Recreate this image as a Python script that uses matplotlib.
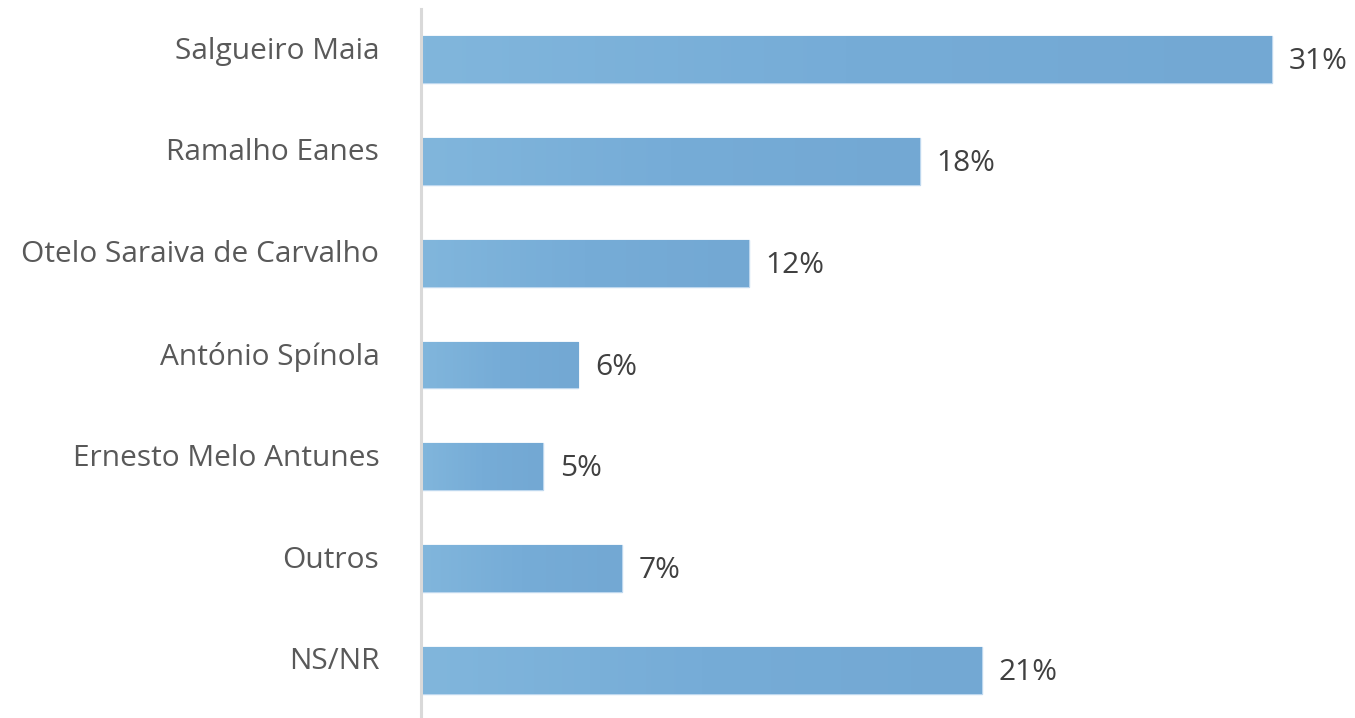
import matplotlib
matplotlib.use("Agg")
import matplotlib.pyplot as plt
import numpy as np
from matplotlib.colors import LinearSegmentedColormap
from matplotlib.transforms import ScaledTranslation

categories = ["Salgueiro Maia", "Ramalho Eanes", "Otelo Saraiva de Carvalho",
              "António Spínola", "Ernesto Melo Antunes", "Outros", "NS/NR"]
values = [31.4, 18.4, 12.1, 5.8, 4.5, 7.4, 20.7]
value_labels = ["31%", "18%", "12%", "6%", "5%", "7%", "21%"]

plt.rcParams['font.family'] = ['Open Sans', 'DejaVu Sans']

W, H = 1355, 718
fig = plt.figure(figsize=(W / 100, H / 100), dpi=100)
ax = fig.add_axes([421 / W, (718 - 721.4) / H, 934 / W, 712.8 / H])

y = np.arange(len(categories))
bars = ax.barh(y, values, height=0.46, color="#78AFD8", edgecolor="#BDD7EE",
               linewidth=1.0, zorder=2)

cmap = LinearSegmentedColormap.from_list("g", ["#81B6DC", "#76ACD7", "#73A8D3"])
grad = np.linspace(0, 1, 256).reshape(1, -1)
for b in bars:
    x0, y0 = b.get_x(), b.get_y()
    w, h = b.get_width(), b.get_height()
    im = ax.imshow(grad, cmap=cmap, extent=[x0, x0 + w, y0 + h, y0],
                   aspect="auto", zorder=2.5, interpolation="bilinear")
    im.set_clip_path(b)

ax.set_xlim(0, 934 / 27.1)
ax.set_ylim(len(categories) - 0.5, -0.5)

for yi, v, lab in zip(y, values, value_labels):
    ax.annotate(lab, (v, yi), xytext=(12, -1.5), textcoords="offset points",
                va="center", ha="left", fontsize=21.5, color="#404040")

ax.set_yticks(y)
ax.set_yticklabels(categories, fontsize=21.5, color="#595959")
ax.tick_params(axis="y", length=0, pad=30)
ax.tick_params(axis="x", bottom=False, labelbottom=False)
off = ScaledTranslation(0, 0.12, fig.dpi_scale_trans)
for t in ax.get_yticklabels():
    t.set_transform(t.get_transform() + off)

for s in ["top", "right", "bottom"]:
    ax.spines[s].set_visible(False)
ax.spines["left"].set_color("#D9D9D9")
ax.spines["left"].set_linewidth(2.2)
ax.spines["left"].set_zorder(3)

fig.savefig("out.png", dpi=100)
